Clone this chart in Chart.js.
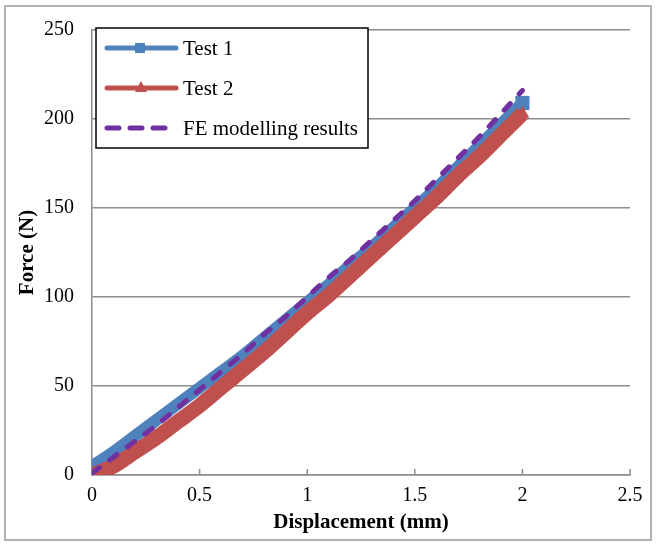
<!DOCTYPE html>
<html lang="en">

<head>
    <meta charset="UTF-8">
    <title>Force vs Displacement</title>
    <script src="https://cdn.jsdelivr.net/npm/chart.js"></script>
    <style>
        body {
            margin: 0;
            background: #fff;
        }
    </style>
</head>

<body>
    <canvas id="forceChart" width="656" height="544"></canvas>

    <script>
        const displacement = [0, 0.1, 0.2, 0.3, 0.4, 0.5, 0.6, 0.7, 0.8, 0.9, 1.0,
            1.1, 1.2, 1.3, 1.4, 1.5, 1.6, 1.7, 1.8, 1.9, 2.0];
        const test1 = [5, 13, 22, 31, 40, 49, 58, 67, 77, 87, 97,
            107, 118, 128, 139, 150, 161, 173, 185, 197, 209];
        const test2 = [0, 5, 13, 21, 30, 39, 49, 59, 69, 80, 91,
            101, 112, 123, 134, 145, 156, 168, 179, 191, 203];
        const feModel = [1, 10, 19, 28, 38, 48, 58, 68, 79, 89, 100,
            111, 121, 132, 143, 154, 166, 178, 190, 203, 216];
        const xTicks = [0, 0.5, 1, 1.5, 2, 2.5];

        const serif = "'Liberation Serif', 'Times New Roman', serif";
        const last = displacement.length - 1;
        const pts = (ys) => displacement.map((x, i) => ({ x: x, y: ys[i] }));
        const endMarkers = (r) => displacement.map((x, i) => (i === 0 || i === last) ? r : 0);

        // outer frame, inward x ticks and the boxed legend
        const decor = {
            id: 'decor',
            beforeDatasetsDraw(chart) {
                const c = chart.ctx;
                const xs = chart.scales.x;
                const bottom = chart.chartArea.bottom;
                c.save();
                c.strokeStyle = '#8c8c8c';
                c.lineWidth = 1.5;
                xTicks.forEach(v => {
                    const px = xs.getPixelForValue(v);
                    c.beginPath();
                    c.moveTo(px, bottom);
                    c.lineTo(px, bottom - 6);
                    c.stroke();
                });
                c.restore();
            },
            afterDraw(chart) {
                const c = chart.ctx;
                c.save();
                c.strokeStyle = '#999';
                c.lineWidth = 1.5;
                c.strokeRect(5, 6, 646, 534);

                // legend
                c.fillStyle = '#fff';
                c.fillRect(96, 28, 272, 120);
                c.strokeStyle = '#000';
                c.lineWidth = 1.5;
                c.strokeRect(96, 28, 272, 120);

                const rows = [48, 88, 128];
                chart.data.datasets.forEach((ds, i) => {
                    const y = rows[i];
                    c.strokeStyle = ds.borderColor;
                    c.lineWidth = 5;
                    c.lineCap = 'round';
                    c.setLineDash(ds.borderDash ? [12, 11] : []);
                    c.beginPath();
                    c.moveTo(107, y);
                    c.lineTo(ds.borderDash ? 170 : 176, y);
                    c.stroke();
                    c.setLineDash([]);
                    c.fillStyle = ds.borderColor;
                    if (ds.pointStyle === 'rect') {
                        c.fillRect(135, y - 5, 10, 10);
                    } else if (ds.pointStyle === 'triangle') {
                        c.beginPath();
                        c.moveTo(141, y - 7);
                        c.lineTo(147, y + 4);
                        c.lineTo(135, y + 4);
                        c.closePath();
                        c.fill();
                    }
                    c.fillStyle = '#000';
                    c.font = '21px ' + serif;
                    c.textBaseline = 'middle';
                    c.fillText(ds.label, 183, y + 1);
                });
                c.restore();
            }
        };

        const ctx = document.getElementById('forceChart').getContext('2d');
        const config = {
            type: 'scatter',
            data: {
                datasets: [{
                    label: 'Test 1',
                    data: pts(test1),
                    showLine: true,
                    borderColor: '#4f81bd',
                    backgroundColor: '#4f81bd',
                    borderWidth: 12,
                    borderJoinStyle: 'round',
                    cubicInterpolationMode: 'monotone',
                    pointStyle: 'rect',
                    pointRadius: endMarkers(10),
                    pointBorderWidth: 0,
                    order: 3
                }, {
                    label: 'Test 2',
                    data: pts(test2),
                    showLine: true,
                    borderColor: '#c0504d',
                    backgroundColor: '#c0504d',
                    borderWidth: 15,
                    borderJoinStyle: 'round',
                    cubicInterpolationMode: 'monotone',
                    pointStyle: 'triangle',
                    pointRadius: endMarkers(8),
                    pointBorderWidth: 0,
                    order: 2
                }, {
                    label: 'FE modelling results',
                    data: pts(feModel),
                    showLine: true,
                    borderColor: '#7030a0',
                    borderWidth: 5,
                    borderDash: [9, 13],
                    borderCapStyle: 'round',
                    cubicInterpolationMode: 'monotone',
                    pointRadius: 0,
                    order: 1
                }]
            },
            options: {
                responsive: false,
                animation: false,
                layout: {
                    padding: { left: 0, top: 25, right: 26, bottom: 0 }
                },
                scales: {
                    x: {
                        type: 'linear',
                        min: 0,
                        max: 2.5,
                        afterFit: (s) => { s.height = 69; },
                        afterBuildTicks: (s) => { s.ticks = xTicks.map(v => ({ value: v })); },
                        grid: { display: false, drawTicks: false },
                        border: { display: true, color: '#8c8c8c', width: 1.5 },
                        ticks: {
                            color: '#000',
                            padding: 9,
                            callback: (v) => String(v),
                            font: { family: serif, size: 20 }
                        },
                        title: {
                            display: true,
                            text: 'Displacement (mm)',
                            color: '#000',
                            padding: { top: 0, bottom: 9 },
                            font: { family: serif, size: 21, weight: 'bold' }
                        }
                    },
                    y: {
                        min: 0,
                        max: 250,
                        afterFit: (s) => { s.width = 92; },
                        grid: { color: '#8c8c8c', lineWidth: 1.5, drawTicks: false },
                        border: { display: true, color: '#8c8c8c', width: 1.5 },
                        ticks: {
                            stepSize: 50,
                            color: '#000',
                            padding: 18,
                            font: { family: serif, size: 20 }
                        },
                        title: {
                            display: true,
                            text: 'Force (N)',
                            color: '#000',
                            padding: { top: 15, bottom: 0 },
                            font: { family: serif, size: 21, weight: 'bold' }
                        }
                    }
                },
                plugins: {
                    legend: { display: false },
                    tooltip: { enabled: false }
                }
            },
            plugins: [decor]
        };

        new Chart(ctx, config);
    </script>
</body>

</html>
